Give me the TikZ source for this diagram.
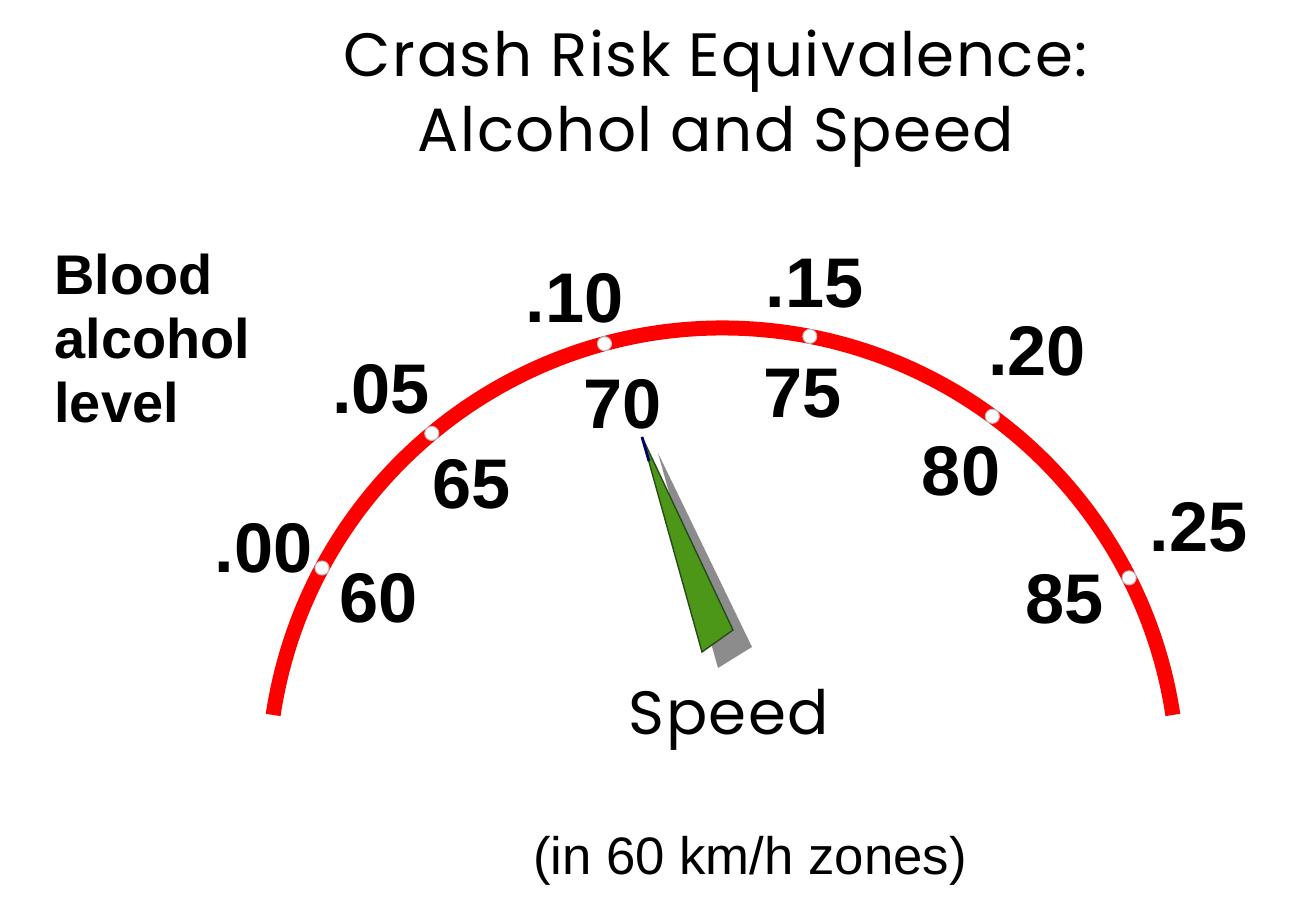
\documentclass[tikz,border=0pt]{standalone}
\usepackage{fontspec}
\setmainfont{Liberation Sans}
\newfontfamily\titlefont{Poppins}[LetterSpace=2.5]
\definecolor{needlegreen}{RGB}{76,150,24}
\definecolor{needleedge}{RGB}{40,75,30}

\begin{document}
\begin{tikzpicture}[thick,
  num/.style={inner sep=0pt, font=\fontsize{20}{24}\selectfont\bfseries},
  tick/.style={fill=white, draw=gray!50, line width=0.3pt}]
\useasboundingbox (-7.23,-1.27) rectangle (5.79,7.83);

% title
\node (title1) [anchor=base, font=\titlefont\fontsize{17.4}{20}\selectfont] at (-0.07,7.06) {Crash Risk Equivalence:};
\node (title2) [anchor=base, font=\titlefont\fontsize{17.4}{20}\selectfont] at (-0.07,6.31) {Alcohol and Speed};

% scale name
\node (bal) [anchor=north west, inner sep=0pt, align=left, font=\fontsize{15.9}{18.2}\selectfont\bfseries] at (-6.70,5.30) {Blood\\alcohol\\level};

% gauge
\draw [red, line width=0.15cm] (171.4:4.55) arc (171.4:8.6:4.55);

% ticks
\draw [tick] (151.8:4.55) circle (0.07);
\draw [tick] (129.8:4.55) circle (0.07);
\draw [tick] (105.1:4.55) circle (0.07);
\draw [tick] (79.0:4.55) circle (0.07);
\draw [tick] (53.7:4.55) circle (0.07);
\draw [tick] (26.8:4.55) circle (0.07);

% blood alcohol, outside
\node (b00) [num] at (152.9:5.16) {.00};
\node (b05) [num] at (131.0:5.21) {.05};
\node (b10) [num] at (107.0:5.07) {.10};
\node (b15) [num] at (79.6:5.08) {.15};
\node (b20) [num] at (54.0:5.34) {.20};
\node (b25) [num] at (28.3:5.40) {.25};

% speed, inside
\node (s60) [num] at (151.8:3.91) {60};
\node (s65) [num] at (130.1:3.90) {65};
\node (s70) [num] at (104.9:3.92) {70};
\node (s75) [num] at (78.5:3.97) {75};
\node (s80) [num] at (52.6:3.92) {80};
\node (s85) [num] at (28.3:3.88) {85};

% needle
\fill [gray!90] (-0.65,3.30) -- (-0.05,1.15) -- (0.29,1.36) -- cycle;
\filldraw [fill=needlegreen, draw=needleedge, line width=0.4pt] (-0.81,3.46) -- (-0.21,1.31) -- (0.10,1.53) -- cycle;
\draw [blue!40!black, line width=0.8pt] (-0.81,3.46) -- (-0.74,3.22);

\node (speed) [anchor=base, font=\titlefont\fontsize{17.4}{20}\selectfont] at (0.06,0.48) {Speed};
\node (zones) [anchor=base, font=\fontsize{15}{18}\selectfont] at (0.27,-0.92) {(in 60 km/h zones)};
\end{tikzpicture}
\end{document}
